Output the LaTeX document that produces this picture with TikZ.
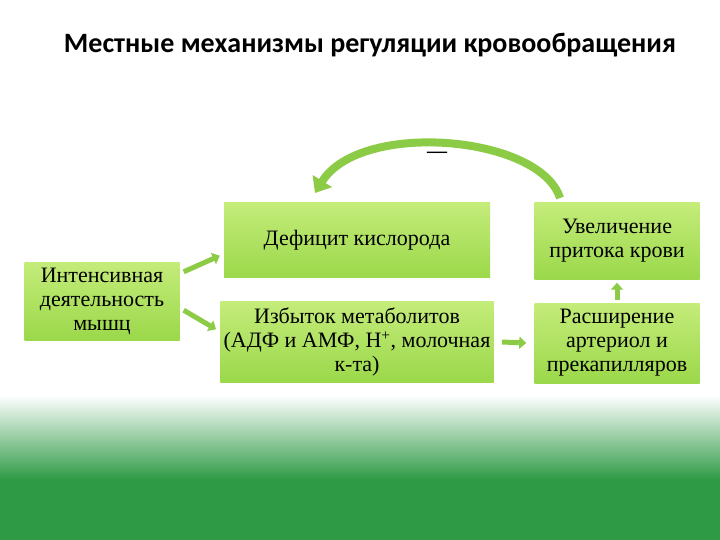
\documentclass[tikz,border=0pt]{standalone}
\usepackage{fontspec}
\setmainfont{Liberation Serif}
\newfontfamily\titlefont{Carlito}
\usetikzlibrary{arrows.meta}
\definecolor{boxg}{HTML}{9BD84A}
\definecolor{boxl}{HTML}{C4EC7A}
\definecolor{arrg}{HTML}{8CCB45}
\definecolor{bgg}{HTML}{2E9A45}
\tikzset{
 box/.style={draw=none,top color=boxl,bottom color=boxg,align=center,font=\fontsize{22}{24}\selectfont},
 blk/.style={line width=5pt,draw=arrg,-{Triangle[length=7pt,width=12pt]}}
}
\begin{document}
\begin{tikzpicture}[x=1pt,y=-1pt]
\useasboundingbox (0,0) rectangle (720,540);
\fill[white] (0,0) rectangle (720,395);
\shade[top color=white,bottom color=bgg] (0,395) rectangle (720,480);
\fill[bgg] (0,480) rectangle (720,540);
\node[font=\titlefont\bfseries\fontsize{28}{30}\selectfont] (t) at (370,45) {Местные механизмы регуляции кровообращения};
\node[box,minimum height=78pt,minimum width=155pt] (a) at (102,301) {Интенсивная\\деятельность\\мышц};
\node[box,minimum height=75pt,minimum width=266pt] (b) at (357,240) {Дефицит кислорода};
\node[box,minimum height=81pt,minimum width=266pt] (c) at (357,342) {Избыток метаболитов\\(АДФ и АМФ, Н\textsuperscript{+}, молочная\\к-та)};
\node[box,minimum height=77pt,minimum width=165pt] (d) at (617,241) {Увеличение\\притока крови};
\node[box,minimum height=80pt,minimum width=165pt] (e) at (617,343) {Расширение\\артериол и\\прекапилляров};
\draw[blk] ([xshift=4pt,yshift=-10pt]a.north east) -- ([xshift=-4pt,yshift=22pt]b.south west);
\draw[blk] ([xshift=4pt,yshift=30pt]a.south east) -- ([xshift=-4pt,yshift=-28pt]c.north west);
\draw[blk] ([xshift=8pt]c.east) -- ([xshift=-8pt]e.west);
\draw[blk] ([yshift=3pt]e.north) -- ([yshift=-3pt]d.south);
\coordinate (s) at (560,198);
\coordinate (f) at (315,193);
\draw[line width=8pt,draw=arrg,-{Triangle[length=14pt,width=22pt]}] (s) .. controls (540,135) and (360,120) .. (f);
\node[font=\fontsize{20}{22}\selectfont\bfseries] (m) at (437,155) {—};
\end{tikzpicture}
\end{document}
